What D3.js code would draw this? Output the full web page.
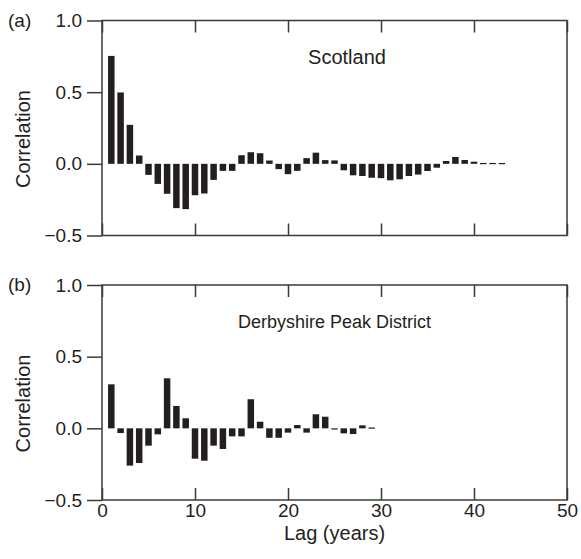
<!DOCTYPE html>
<html>
<head>
<meta charset="utf-8">
<script src="https://cdn.jsdelivr.net/npm/d3@7"></script>
<style>
  html, body { margin: 0; padding: 0; background: #fff; }
  svg { display: block; }
  text { font-family: "Liberation Sans", Arial, Helvetica, sans-serif; fill: #231f20; }
</style>
</head>
<body>
<svg id="chart" width="581" height="559"></svg>
<script>
// ---- data ----
const scotlandLags = d3.range(1, 44);
const scotlandValues = [
  0.753, 0.498, 0.272, 0.058, -0.077, -0.140, -0.209, -0.309, -0.316, -0.219,
  -0.207, -0.112, -0.049, -0.049, 0.060, 0.081, 0.074, 0.023, -0.037, -0.072,
  -0.049, 0.040, 0.078, 0.026, 0.024, -0.045, -0.080, -0.085, -0.097, -0.100,
  -0.115, -0.108, -0.085, -0.075, -0.050, -0.027, 0.020, 0.048, 0.027, 0.015,
  0.006, 0.006, 0.006
];
const derbyLags = d3.range(1, 30);
const derbyValues = [
  0.307, -0.033, -0.260, -0.242, -0.121, -0.042, 0.349, 0.156, 0.070, -0.212,
  -0.226, -0.121, -0.144, -0.056, -0.056, 0.203, 0.046, -0.066, -0.066, -0.030,
  0.023, -0.030, 0.098, 0.081, -0.006, -0.035, -0.040, 0.021, 0.006
];
const panelTitles = ["Scotland", "Derbyshire Peak District"];
const panelLetters = ["(a)", "(b)"];
const yTicks = [-0.5, 0, 0.5, 1.0];
const xTicks = [0, 10, 20, 30, 40, 50];
const xLabel = "Lag (years)";
const yLabel = "Correlation";

// ---- layout ----
const svg = d3.select("#chart");
const left = 102, right = 567;
const panels = [
  { top: 20.5, bottom: 235.5, lags: scotlandLags, values: scotlandValues, title: panelTitles[0], letter: panelLetters[0], titleX: 347, titleSize: 20, xLabels: false },
  { top: 285, bottom: 500, lags: derbyLags, values: derbyValues, title: panelTitles[1], letter: panelLetters[1], titleX: 334.5, titleSize: 18, xLabels: true }
];
const x = d3.scaleLinear().domain([0, 50]).range([left, right]);
const barW = 6.5;
const ink = "#231f20";
const axisCol = "#3a3a3a";
const fmt = d => (d < 0 ? "\u2212" : "") + Math.abs(d).toFixed(1);

panels.forEach(p => {
  const y = d3.scaleLinear().domain([-0.5, 1]).range([p.bottom, p.top]);
  const g = svg.append("g");

  // bars
  const data = p.lags.map((l, i) => ({ lag: l, v: p.values[i] }));
  g.selectAll("rect.bar").data(data).enter().append("rect")
    .attr("class", "bar")
    .attr("x", d => x(d.lag) - barW / 2)
    .attr("width", barW)
    .attr("y", d => y(Math.max(0, d.v)))
    .attr("height", d => Math.max(1.2, Math.abs(y(d.v) - y(0))))
    .attr("fill", ink);

  // left axis (outward ticks)
  const yAxis = d3.axisLeft(y).tickValues(yTicks).tickSize(15).tickPadding(5).tickFormat(fmt);
  const ya = g.append("g").attr("transform", `translate(${left},0)`).call(yAxis);
  ya.select(".domain").remove();
  ya.selectAll("line").attr("stroke", axisCol).attr("stroke-width", 1.5);
  ya.selectAll("text").style("font-size", "19px").attr("fill", ink)
    .attr("font-family", "Liberation Sans, Arial, sans-serif");

  // bottom axis (inward ticks)
  const xb = d3.axisBottom(x).tickValues(xTicks).tickSize(-12).tickPadding(4)
    .tickFormat(p.xLabels ? d3.format("d") : () => "");
  const xa = g.append("g").attr("transform", `translate(0,${p.bottom})`).call(xb);
  xa.select(".domain").remove();
  xa.selectAll("line").attr("stroke", axisCol).attr("stroke-width", 1.5);
  xa.selectAll("text").style("font-size", "19px").attr("fill", ink)
    .attr("font-family", "Liberation Sans, Arial, sans-serif");

  // top axis (inward ticks)
  const xt = d3.axisTop(x).tickValues(xTicks).tickSize(-12).tickFormat(() => "");
  const xta = g.append("g").attr("transform", `translate(0,${p.top})`).call(xt);
  xta.select(".domain").remove();
  xta.selectAll("line").attr("stroke", axisCol).attr("stroke-width", 1.5);

  // frame
  g.append("rect")
    .attr("x", left).attr("y", p.top)
    .attr("width", right - left).attr("height", p.bottom - p.top)
    .attr("fill", "none").attr("stroke", axisCol).attr("stroke-width", 1.5);

  // annotation
  g.append("text").attr("x", p.titleX).attr("y", p.top + 43)
    .attr("text-anchor", "middle").style("font-size", p.titleSize + "px").text(p.title);

  // panel letter
  g.append("text").attr("x", 8).attr("y", p.top + 6)
    .style("font-size", "19px").text(p.letter);

  // y label
  g.append("text")
    .attr("transform", `translate(${30},${(p.top + p.bottom) / 2 + 11}) rotate(-90)`)
    .attr("text-anchor", "middle").style("font-size", "20px").text(yLabel);
});

// x label
svg.append("text").attr("x", (left + right) / 2).attr("y", 540)
  .attr("text-anchor", "middle").style("font-size", "20px").text(xLabel);
</script>
</body>
</html>
